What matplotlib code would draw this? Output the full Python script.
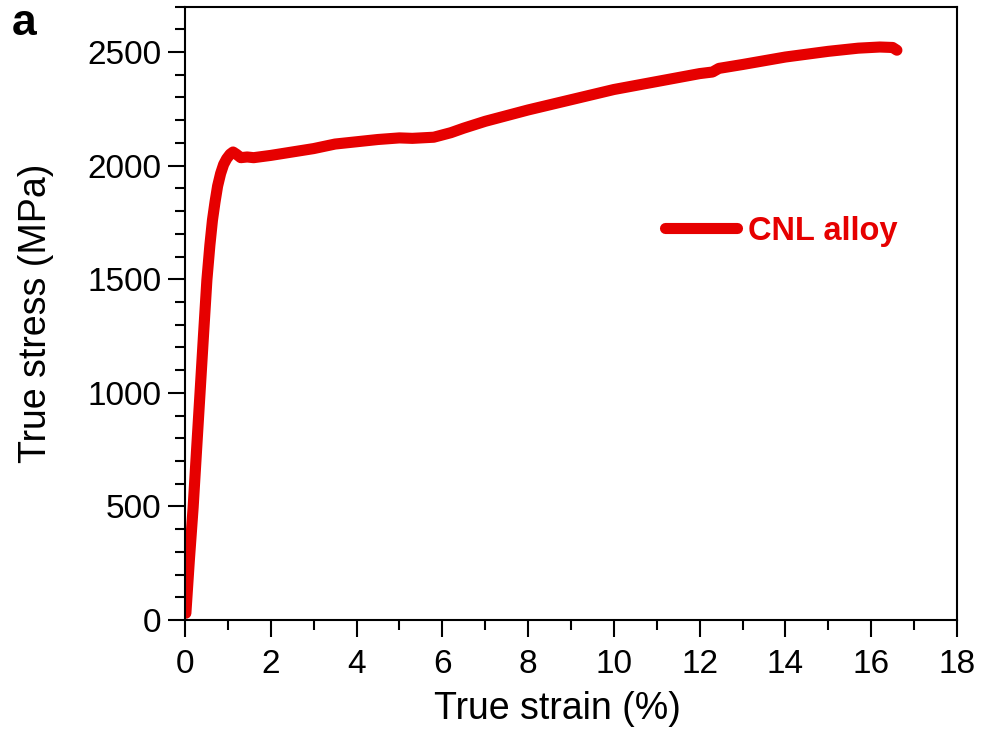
import numpy as np
import matplotlib
matplotlib.use("Agg")
from matplotlib import pyplot as plt
from matplotlib.ticker import MultipleLocator

plt.rcParams['font.family'] = ['Liberation Sans', 'DejaVu Sans']

# true stress-strain curve
strain = [0.02, 0.10, 0.19, 0.27, 0.35, 0.43, 0.51, 0.58, 0.64, 0.70, 0.76, 0.83,
          0.90, 0.97, 1.05, 1.12, 1.20, 1.30, 1.45, 1.60, 2.00, 2.50, 3.00, 3.50,
          4.00, 4.50, 5.00, 5.30, 5.80, 6.20, 6.50, 7.00, 8.00, 9.00, 10.00,
          11.00, 12.00, 12.30, 12.45, 13.00, 14.00, 15.00, 15.70, 16.20, 16.50,
          16.60]
stress = [30, 260, 497, 750, 999, 1250, 1496, 1650, 1760, 1840, 1910, 1965,
          2005, 2030, 2050, 2060, 2050, 2035, 2038, 2035, 2045, 2060, 2075, 2095,
          2105, 2115, 2122, 2120, 2125, 2145, 2165, 2195, 2245, 2290, 2335,
          2370, 2405, 2412, 2428, 2445, 2478, 2503, 2517, 2522, 2520,
          2508]

red = '#e60000'

fig = plt.figure(figsize=(9.82, 7.31), dpi=100)
ax = fig.add_axes([0.1884, 0.1518, 0.7861, 0.8392])

ax.plot(strain, stress, color=red, lw=8, solid_capstyle='round',
        solid_joinstyle='round', label='CNL alloy')

ax.set_xlim(0, 18)
ax.set_ylim(0, 2700)
ax.xaxis.set_major_locator(MultipleLocator(2))
ax.xaxis.set_minor_locator(MultipleLocator(1))
ax.yaxis.set_major_locator(MultipleLocator(500))
ax.yaxis.set_minor_locator(MultipleLocator(100))

ax.tick_params(which='both', direction='out', top=False, right=False,
               width=1.5, labelsize=24)
ax.tick_params(which='major', length=12)
ax.tick_params(which='minor', length=7)
ax.tick_params(axis='x', which='major', pad=9)
ax.tick_params(axis='y', which='major', pad=5)
for s in ax.spines.values():
    s.set_linewidth(1.5)

ax.set_xlabel('True strain (%)', fontsize=27, labelpad=8)
ax.xaxis.label.set_x(0.482)
ax.set_ylabel('True stress (MPa)', fontsize=27, labelpad=24)

leg = ax.legend(loc='upper left', bbox_to_anchor=(0.5835, 0.707), frameon=False,
                handlelength=2.2, handletextpad=0.35, labelcolor=red,
                prop={'weight': 'bold', 'size': 23.5})

fig.text(0.012, 0.952, 'a', fontsize=32, fontweight='bold')

plt.savefig('out.png', dpi=100)
